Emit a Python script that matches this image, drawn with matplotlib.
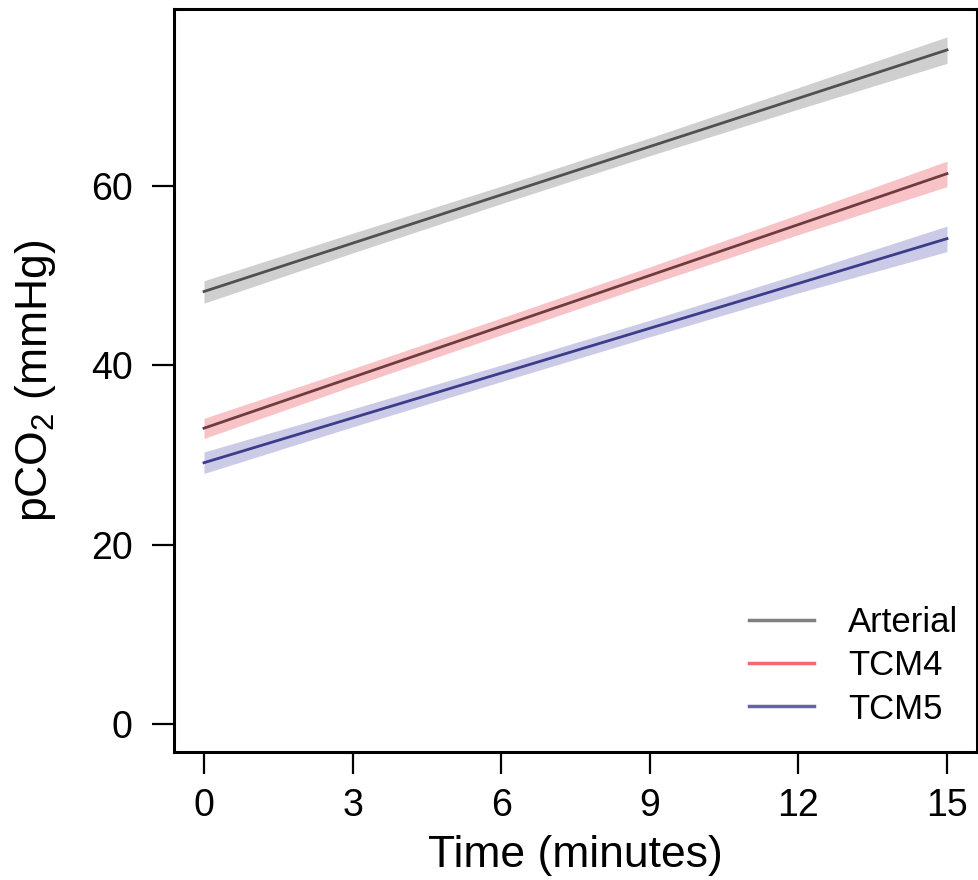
import numpy as np
import matplotlib
matplotlib.use('Agg')
from matplotlib import pyplot as plt

plt.rcParams['font.family'] = ['Liberation Sans', 'DejaVu Sans']
plt.rcParams['mathtext.fontset'] = 'custom'
plt.rcParams['mathtext.rm'] = 'Liberation Sans'
plt.rcParams['mathtext.default'] = 'regular'

# fitted lines (start, end) and confidence bands
line_x = [0, 15]
band_x = [0, 3, 6, 9, 12, 15]

arterial_fit = [48.25, 75.2]
arterial_hi = [49.45, 54.75, 60.0, 65.4, 71.0, 76.65]
arterial_lo = [46.95, 52.55, 58.05, 63.4, 68.6, 73.7]

tcm4_fit = [33.0, 61.4]
tcm4_hi = [34.1, 39.65, 45.3, 51.0, 56.85, 62.8]
tcm4_lo = [31.85, 37.7, 43.4, 49.05, 54.6, 59.95]

tcm5_fit = [29.15, 54.15]
tcm5_hi = [30.35, 35.15, 40.05, 45.05, 50.2, 55.55]
tcm5_lo = [27.95, 33.15, 38.2, 43.2, 48.1, 52.7]

labels = ["Arterial", "TCM4", "TCM5"]
x_ticks = [0, 3, 6, 9, 12, 15]
y_ticks = [0, 20, 40, 60]

series = [
    (arterial_fit, arterial_lo, arterial_hi, "#cfcfcf", "#505050", "#808080"),
    (tcm4_fit, tcm4_lo, tcm4_hi, "#f8c3c7", "#6e3c3e", "#f06a6e"),
    (tcm5_fit, tcm5_lo, tcm5_hi, "#cbcbe8", "#3c3c8a", "#6464aa"),
]

fig = plt.figure(figsize=(9.79, 8.8), dpi=100)
ax = fig.add_axes([0.178, 0.146, 0.8197, 0.8438])

for (fit, lo, hi, fill_c, line_c, leg_c), lab in zip(series, labels):
    ax.fill_between(band_x, lo, hi, color=fill_c, lw=0)
    ax.plot(line_x, fit, color=line_c, lw=2)
    # legend handle uses the lighter colour like the original
    ax.plot([], [], color=leg_c, lw=2.5, label=lab)

ax.set_xlim(-0.6, 15.6)
ax.set_ylim(-3.07, 79.77)
ax.set_xticks(x_ticks)
ax.set_yticks(y_ticks)
ax.tick_params(axis='both', labelsize=27, length=16, width=1.6)
ax.tick_params(axis='x', pad=10)
ax.tick_params(axis='y', pad=14)
for sp in ax.spines.values():
    sp.set_linewidth(2.2)

ax.set_xlabel("Time (minutes)", fontsize=32, labelpad=8)
ax.set_ylabel("pCO$_2$ (mmHg)", fontsize=32, labelpad=24)

leg = ax.legend(loc='lower right', bbox_to_anchor=(0.977, 0.035), frameon=False,
                fontsize=25, handlelength=1.87, handletextpad=0.98,
                labelspacing=0.3, borderpad=0, borderaxespad=0)

fig.savefig("out.png", dpi=100)
